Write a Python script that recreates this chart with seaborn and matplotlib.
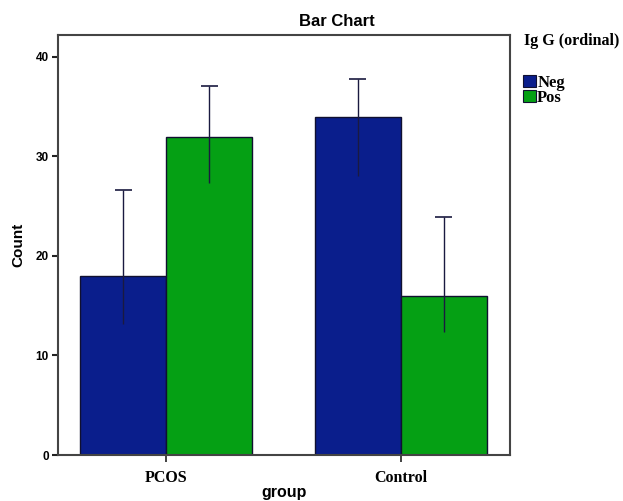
import matplotlib
matplotlib.use("Agg")
import matplotlib.pyplot as plt
import seaborn as sns
import pandas as pd
from matplotlib.patches import Patch

# chart values
groups = ["PCOS", "Control"]
levels = ["Neg", "Pos"]
count_neg = [18, 34]
count_pos = [32, 16]
ci_low_neg = [13.2, 28.0]
ci_high_neg = [26.6, 37.8]
ci_low_pos = [27.3, 12.4]
ci_high_pos = [37.1, 23.9]
yticks = [0, 10, 20, 30, 40]

colors = {"Neg": "#0A1E8C", "Pos": "#05A014"}
sans = "Liberation Sans"
serif = "Liberation Serif"

df = pd.DataFrame({
    "group": groups * 2,
    "igg": ["Neg"] * len(groups) + ["Pos"] * len(groups),
    "count": count_neg + count_pos,
})
ci = {"Neg": (ci_low_neg, ci_high_neg), "Pos": (ci_low_pos, ci_high_pos)}

sns.set_style("white")
plt.rcParams.update({"text.color": "black", "axes.labelcolor": "black",
                     "xtick.color": "black", "ytick.color": "black"})
fig = plt.figure(figsize=(6.23, 5.01), dpi=100)
ax = fig.add_axes([58 / 623, 46 / 501, 452 / 623, 420 / 501])

sns.barplot(data=df, x="group", y="count", hue="igg", order=groups,
            hue_order=levels, palette=colors, width=0.735, errorbar=None,
            edgecolor="#101030", linewidth=1, saturation=1, legend=False, ax=ax)

# error bars: upper cap only, as in the original
for level, cont in zip(levels, ax.containers):
    lo, hi = ci[level]
    for bar, l, h in zip(cont, lo, hi):
        xc = bar.get_x() + bar.get_width() / 2
        ax.vlines(xc, l, h, color="#1a1a40", linewidth=1, zorder=5)
        ax.hlines(h, xc - 0.036, xc + 0.036, color="#1a1a40", linewidth=1.2, zorder=5)

ax.set_xlim(-0.4615, 1.466)
ax.set_ylim(0, 42.2)
ax.set_yticks(yticks)
ax.set_yticklabels([str(t) for t in yticks], fontfamily=sans, fontweight="bold", fontsize=8.5)
ax.set_xticks(range(len(groups)))
ax.set_xticklabels(groups, fontfamily=serif, fontweight="bold", fontsize=11.5)
ax.tick_params(axis="y", direction="out", length=4, width=1.5, pad=2.5, left=True, color="#222222")
ax.tick_params(axis="x", direction="out", length=5, width=1.2, pad=6, bottom=True, color="#222222")

for s in ax.spines.values():
    s.set_visible(True)
    s.set_color("#444444")
    s.set_linewidth(1.5)

ax.set_xlabel("group", fontfamily=sans, fontweight="bold", fontsize=11.5)
ax.set_ylabel("Count", fontfamily=sans, fontweight="bold", fontsize=11)
ax.xaxis.set_label_coords(0.5, -(493 - 455) / 420)
ax.xaxis.label.set_verticalalignment("center")
ax.yaxis.set_label_coords(-(58 - 18) / 452, 0.5)
ax.yaxis.label.set_verticalalignment("center")

fig.text(337 / 623, 1 - 22 / 501, "Bar Chart", ha="center", va="center",
         fontfamily=sans, fontweight="bold", fontsize=12)
fig.text(524 / 623, 1 - 41 / 501, "Ig G (ordinal)", ha="left", va="center",
         fontfamily=serif, fontweight="bold", fontsize=11.5)

handles = [Patch(facecolor=colors[l], edgecolor="#101030", linewidth=0.8, label=l) for l in levels]
fig.legend(handles=handles, loc="upper left", bbox_to_anchor=(523 / 623, 1 - 75 / 501),
           frameon=False, borderaxespad=0, borderpad=0, handlelength=0.75, handleheight=0.75,
           handletextpad=0.1, labelspacing=-0.05,
           prop={"family": serif, "weight": "bold", "size": 12})

fig.savefig("out.png", dpi=100)
